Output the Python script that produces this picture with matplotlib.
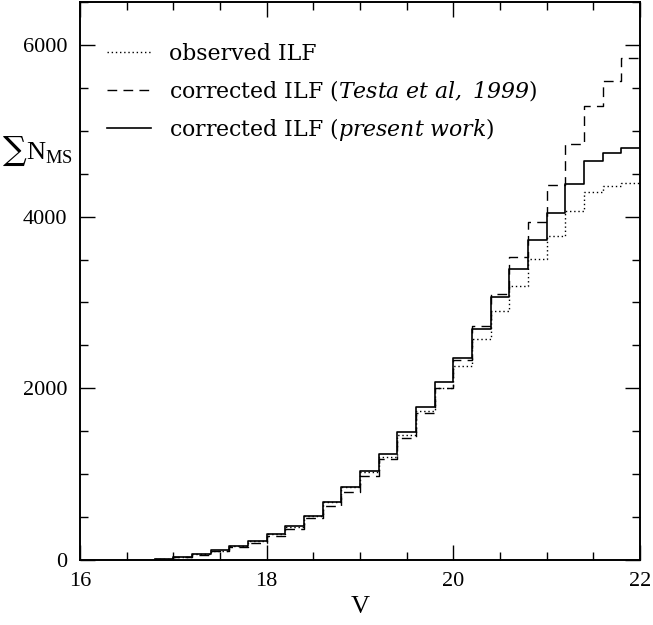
import matplotlib
matplotlib.use("Agg")
import matplotlib.pyplot as plt
import numpy as np

# bin left edges (V mag), bin width 0.2
v_edges = [16.8, 17.0, 17.2, 17.4, 17.6, 17.8, 18.0, 18.2, 18.4, 18.6, 18.8,
           19.0, 19.2, 19.4, 19.6, 19.8, 20.0, 20.2, 20.4, 20.6, 20.8,
           21.0, 21.2, 21.4, 21.6, 21.8, 22.0]

observed = [12, 35, 70, 110, 162, 222, 298, 390, 512, 675, 848,
            1025, 1205, 1460, 1735, 2005, 2265, 2571, 2897, 3194, 3503,
            3775, 4066, 4291, 4361, 4396]
testa = [10, 30, 62, 100, 148, 200, 276, 362, 486, 629, 796,
         979, 1180, 1418, 1716, 2008, 2335, 2725, 3099, 3528, 3941,
         4369, 4843, 5290, 5585, 5845]
present = [15, 39, 72, 112, 165, 225, 300, 393, 515, 679, 854,
           1040, 1240, 1495, 1786, 2070, 2355, 2695, 3060, 3394, 3728,
           4046, 4380, 4648, 4738, 4796]

# italic parts are written inside \mathrm, which is mapped to the italic face
labels = ["observed ILF",
          r"corrected ILF ($\mathrm{Testa\ et\ al,\ 1999}$)",
          r"corrected ILF ($\mathrm{present\ work}$)"]

plt.rcParams['mathtext.fontset'] = 'custom'
plt.rcParams['mathtext.rm'] = 'DejaVu Serif:italic'
plt.rcParams['mathtext.it'] = 'DejaVu Serif:italic'
plt.rcParams['mathtext.sf'] = 'Liberation Serif'
plt.rcParams['mathtext.bf'] = 'DejaVu Serif:bold'
plt.rcParams['font.family'] = ['DejaVu Serif']

fig = plt.figure(figsize=(6.53, 6.25), dpi=100)
ax = fig.add_axes([80/653, 65/625, 560/653, 558/625])

def stepvals(vals):
    return list(vals) + [vals[-1]]

ax.plot(v_edges, stepvals(observed), drawstyle='steps-post', color='black',
        lw=1.0, linestyle=(0, (1, 2)), label=labels[0])
ax.plot(v_edges, stepvals(testa), drawstyle='steps-post', color='black',
        lw=1.0, linestyle=(0, (7, 4.5)), label=labels[1])
ax.plot(v_edges, stepvals(present), drawstyle='steps-post', color='black',
        lw=1.2, linestyle='-', label=labels[2])

ax.set_xlim(16, 22)
ax.set_ylim(0, 6500)
ax.set_xticks([16, 18, 20, 22])
ax.set_xticks(np.arange(16, 22.01, 0.5), minor=True)
ax.set_yticks([0, 2000, 4000, 6000])
ax.set_yticks(np.arange(0, 6501, 500), minor=True)

ax.tick_params(which='both', direction='in', top=True, right=True, width=1.0)
ax.tick_params(which='major', length=11, pad=9)
ax.tick_params(which='minor', length=5.5)
for lab in ax.get_xticklabels() + ax.get_yticklabels():
    lab.set_fontfamily('Liberation Serif')
    lab.set_fontsize(16)

for s in ax.spines.values():
    s.set_linewidth(1.4)

ax.set_xlabel("V", fontfamily='Liberation Serif', fontsize=19, labelpad=3)
# y label: big summation sign followed by N_MS
ax.text(-0.1375, 0.733, '\u2211', transform=ax.transAxes,
        fontsize=24, ha='left', va='center', fontfamily='DejaVu Serif')
ax.text(-0.0964, 0.729, r'N$_{\mathsf{MS}}$', transform=ax.transAxes,
        fontsize=19, ha='left', va='center', fontfamily='Liberation Serif')

leg = ax.legend(loc='upper left', bbox_to_anchor=(0.048, 0.927), frameon=False,
                fontsize=15.8, handlelength=2.0, handletextpad=0.85,
                labelspacing=0.6, borderaxespad=0, borderpad=0)

fig.savefig("out.png", dpi=100)
